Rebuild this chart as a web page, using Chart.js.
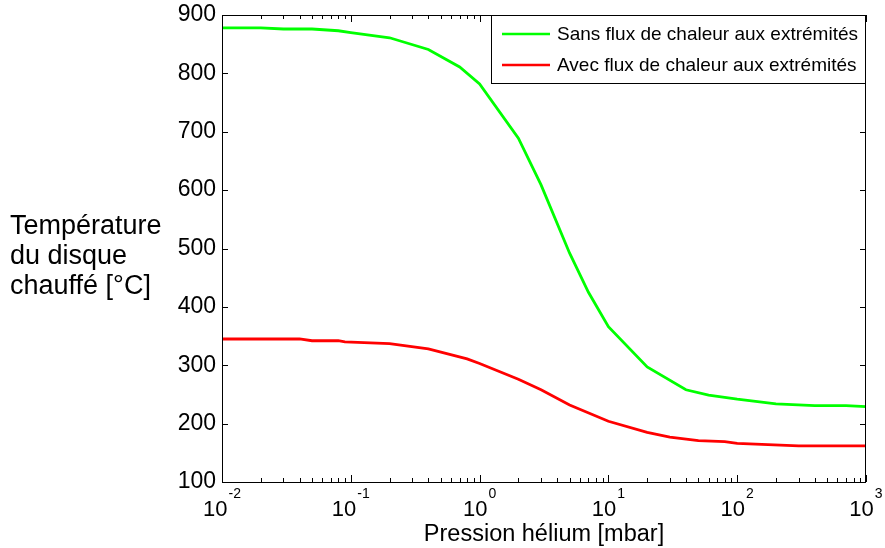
<!DOCTYPE html>
<html>
<head>
<meta charset="utf-8">
<script src="https://cdn.jsdelivr.net/npm/chart.js@4.4.0/dist/chart.umd.min.js"></script>
<style>
  body { margin: 0; background: #fff; }
  #wrap { width: 885px; height: 548px; }
</style>
</head>
<body>
<div id="wrap"><canvas id="chartCanvas" width="885" height="548"></canvas></div>
<script>
// pressure in mbar, temperature in °C
const pressureSans = [0.01, 0.02, 0.03, 0.05, 0.08, 0.1, 0.2, 0.4, 0.7, 1, 2, 3, 5, 7, 10, 20, 40, 60, 100, 200, 400, 700, 1000];
const tempSans = [878, 878, 876, 876, 873, 870, 861, 841, 811, 782, 689, 609, 492, 425, 366, 297, 258, 249, 242, 234, 231, 231, 229];

const pressureAvec = [0.01, 0.04, 0.05, 0.08, 0.09, 0.2, 0.4, 0.8, 1, 2, 3, 5, 10, 20, 30, 50, 80, 100, 300, 1000];
const tempAvec = [345, 345, 342, 342, 340, 337, 328, 311, 303, 276, 258, 232, 204, 185, 177, 171, 169, 166, 162, 162];

const seriesLabels = ['Sans flux de chaleur aux extrémités', 'Avec flux de chaleur aux extrémités'];
const seriesColors = ['#00ff00', '#ff0000'];

const yTitle = ['Température', 'du disque', 'chauffé [°C]'];
const xTitle = 'Pression hélium [mbar]';
const xDecades = [-2, -1, 0, 1, 2, 3];

const FONT = '"Liberation Sans", Arial, sans-serif';

function toPoints(xs, ys) {
  return xs.map((x, i) => ({ x: x, y: ys[i] }));
}

// frame, inward ticks, x labels with exponents, horizontal y title, boxed legend
const matlabAxes = {
  id: 'matlabAxes',
  afterDraw(chart) {
    const ctx = chart.ctx;
    const a = chart.chartArea;
    const xs = chart.scales.x;
    const ys = chart.scales.y;
    ctx.save();
    ctx.strokeStyle = '#000';
    ctx.lineWidth = 1;
    ctx.strokeRect(a.left + 0.5, a.top + 0.5, a.right - a.left - 1, a.bottom - a.top);

    ctx.beginPath();
    ys.ticks.forEach(t => {
      const py = Math.round(ys.getPixelForValue(t.value)) + 0.5;
      ctx.moveTo(a.left, py); ctx.lineTo(a.left + 6, py);
      ctx.moveTo(a.right, py); ctx.lineTo(a.right - 6, py);
    });
    xDecades.forEach(d => {
      for (let m = 1; m <= 9; m++) {
        if (d === 3 && m > 1) break;
        const px = Math.round(xs.getPixelForValue(m * Math.pow(10, d))) + 0.5;
        const len = m === 1 ? 7 : 4;
        ctx.moveTo(px, a.bottom); ctx.lineTo(px, a.bottom - len);
        ctx.moveTo(px, a.top); ctx.lineTo(px, a.top + len);
      }
    });
    ctx.stroke();

    // x tick labels 10^n
    ctx.fillStyle = '#000';
    ctx.textBaseline = 'alphabetic';
    ctx.textAlign = 'left';
    xDecades.forEach(d => {
      const px = xs.getPixelForValue(Math.pow(10, d));
      ctx.font = '22px ' + FONT;
      const wb = ctx.measureText('10').width;
      ctx.font = '14px ' + FONT;
      const exp = String(d);
      const we = ctx.measureText(exp).width;
      const x0 = px - (wb + 1 + we) / 2;
      ctx.font = '22px ' + FONT;
      ctx.fillText('10', x0, a.bottom + 34);
      ctx.font = '14px ' + FONT;
      ctx.fillText(exp, x0 + wb + 1, a.bottom + 16);
    });

    // x title
    ctx.font = '23.5px ' + FONT;
    ctx.textAlign = 'center';
    ctx.fillText(xTitle, (a.left + a.right) / 2, a.bottom + 59);

    // y title, horizontal on three lines
    ctx.font = '27px ' + FONT;
    ctx.textAlign = 'left';
    const mid = (a.top + a.bottom) / 2;
    yTitle.forEach((line, i) => {
      ctx.fillText(line, a.left - 212, mid - 15 + i * 30);
    });

    // legend
    const lx = a.right - 375, ly = a.top, lh = 68;
    ctx.fillStyle = '#fff';
    ctx.fillRect(lx, ly, a.right - lx, lh);
    ctx.strokeStyle = '#000';
    ctx.lineWidth = 1;
    ctx.strokeRect(lx + 0.5, ly + 0.5, a.right - lx - 1, lh);
    ctx.font = '19px ' + FONT;
    ctx.textBaseline = 'middle';
    chart.data.datasets.forEach((ds, i) => {
      const cy = ly + 19 + i * 31;
      ctx.strokeStyle = ds.borderColor;
      ctx.lineWidth = 2.5;
      ctx.beginPath();
      ctx.moveTo(lx + 11, cy); ctx.lineTo(lx + 59, cy);
      ctx.stroke();
      ctx.fillStyle = '#000';
      ctx.fillText(ds.label, lx + 66, cy + 1);
    });
    ctx.restore();
  }
};

new Chart(document.getElementById('chartCanvas').getContext('2d'), {
  type: 'line',
  data: {
    datasets: [
      { label: seriesLabels[0], data: toPoints(pressureSans, tempSans), borderColor: seriesColors[0] },
      { label: seriesLabels[1], data: toPoints(pressureAvec, tempAvec), borderColor: seriesColors[1] }
    ]
  },
  options: {
    responsive: false,
    animation: false,
    layout: { padding: { top: 15, right: 19, left: 0, bottom: 0 } },
    elements: {
      point: { radius: 0 },
      line: { borderWidth: 2.8, tension: 0, fill: false }
    },
    plugins: { legend: { display: false }, tooltip: { enabled: false } },
    scales: {
      x: {
        type: 'logarithmic',
        min: 0.01,
        max: 1000,
        grid: { display: false, drawTicks: false },
        border: { display: false },
        ticks: { display: false },
        afterFit(scale) { scale.height = 66; }
      },
      y: {
        min: 100,
        max: 900,
        grid: { display: false, drawTicks: false },
        border: { display: false },
        ticks: {
          stepSize: 100,
          padding: 6,
          color: '#000',
          font: { family: FONT, size: 23, lineHeight: 1 }
        },
        afterFit(scale) {
          scale.width = 222;
          scale.paddingTop = 0;
          scale.paddingBottom = 0;
        }
      }
    }
  },
  plugins: [matlabAxes]
});
</script>
</body>
</html>
